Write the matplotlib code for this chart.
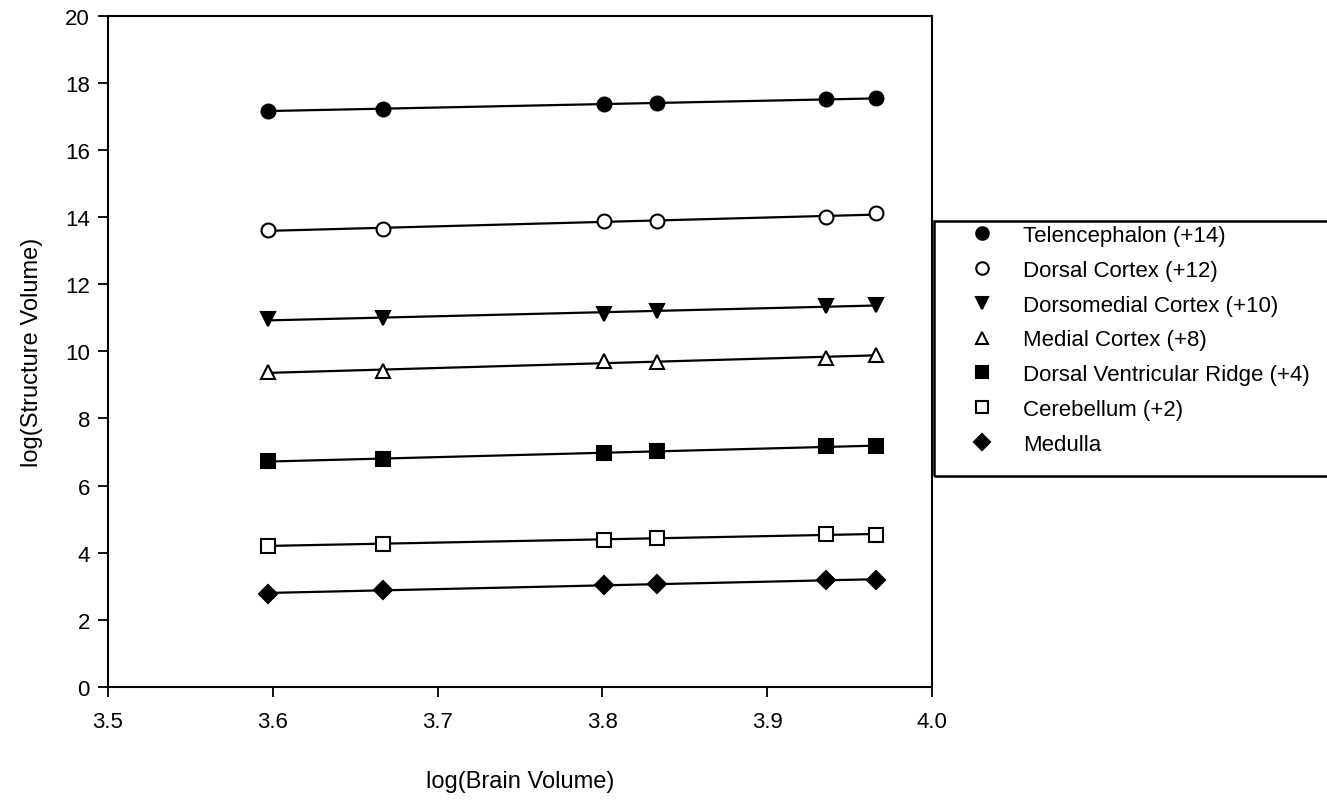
import numpy as np
import matplotlib
matplotlib.use('Agg')
import matplotlib.pyplot as plt
from matplotlib.patches import Rectangle

plt.rcParams['font.family'] = ['Liberation Sans', 'DejaVu Sans']

# log(Brain Volume) for the six animals
brain = [3.597, 3.667, 3.801, 3.833, 3.936, 3.966]

# log(Structure Volume), already shifted by the offsets in the labels
telencephalon = [17.17, 17.22, 17.36, 17.39, 17.51, 17.54]
dorsal_cortex = [13.62, 13.65, 13.87, 13.87, 14.00, 14.12]
dorsomedial_cortex = [10.95, 11.00, 11.12, 11.19, 11.34, 11.39]
medial_cortex = [9.37, 9.42, 9.70, 9.68, 9.80, 9.90]
dvr = [6.73, 6.78, 6.98, 7.03, 7.17, 7.17]
cerebellum = [4.20, 4.27, 4.38, 4.45, 4.57, 4.52]
medulla = [2.78, 2.90, 3.03, 3.07, 3.19, 3.19]

labels = ['Telencephalon (+14)', 'Dorsal Cortex (+12)', 'Dorsomedial Cortex (+10)',
          'Medial Cortex (+8)', 'Dorsal Ventricular Ridge (+4)', 'Cerebellum (+2)', 'Medulla']
series = [telencephalon, dorsal_cortex, dorsomedial_cortex, medial_cortex, dvr, cerebellum, medulla]

# marker, filled?
styles = [('o', True), ('o', False), ('v', True), ('^', False), ('s', True), ('s', False), ('D', True)]

fig = plt.figure(figsize=(13.27, 8.04), dpi=100)
ax = fig.add_axes([0.0814, 0.1443, 0.6209, 0.835])

x = np.array(brain)
handles = []
for vals, (mk, filled), lab in zip(series, styles, labels):
    y = np.array(vals)
    # regression line across the data range
    k, b = np.polyfit(x, y, 1)
    xs = np.array([x.min(), x.max()])
    ax.plot(xs, k * xs + b, color='black', linewidth=1.6, zorder=2)
    size = 10 if mk != 'D' else 9
    h, = ax.plot(x, y, linestyle='none', marker=mk, markersize=size,
                 markerfacecolor='black' if filled else 'white',
                 markeredgecolor='black', markeredgewidth=1.5, zorder=3, label=lab)
    handles.append(h)

ax.set_xlim(3.5, 4.0)
ax.set_ylim(0, 20)
ax.set_xticks(np.arange(3.5, 4.01, 0.1))
ax.set_xticklabels(['3.5', '3.6', '3.7', '3.8', '3.9', '4.0'])
ax.set_yticks(range(0, 21, 2))
ax.tick_params(direction='out', length=7, width=1.3, labelsize=16)
ax.tick_params(axis='x', pad=10)
ax.tick_params(axis='y', pad=6)
for sp in ax.spines.values():
    sp.set_linewidth(1.5)

ax.set_xlabel('log(Brain Volume)', fontsize=17, labelpad=28)
ax.set_ylabel('log(Structure Volume)', fontsize=17, labelpad=16)

# legend frame drawn separately to control its box
fig.patches.append(Rectangle((0.7035, 0.4067), 0.32, 0.3172, transform=fig.transFigure,
                             fill=False, edgecolor='black', linewidth=1.8))
fig.legend(handles=handles, loc='upper left', bbox_to_anchor=(0.7314, 0.7189),
           frameon=False, fontsize=16, handlelength=1.0, handletextpad=1.35,
           labelspacing=0.62, borderpad=0, borderaxespad=0, numpoints=1,
           markerscale=0.9)

fig.savefig('out.png', dpi=100)
